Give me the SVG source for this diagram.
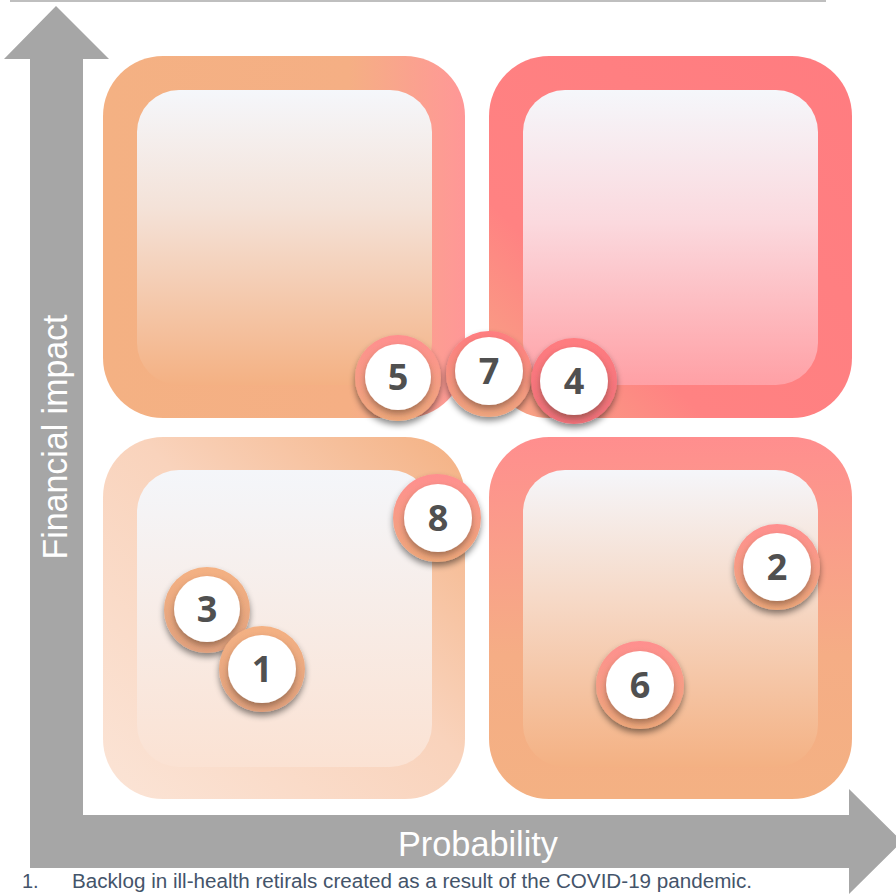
<svg xmlns="http://www.w3.org/2000/svg" width="896" height="894" viewBox="0 0 896 894">
  <defs>
    <style>
      .axis { fill: #A6A6A6; }
      .axislabel { fill: #FFFFFF; font-family: "Liberation Sans", "Open Sans", sans-serif; font-size: 35px; }
      .num { fill: #505050; font-family: "Open Sans", "DejaVu Sans", sans-serif; font-weight: bold; font-size: 36px; text-anchor: middle; }
      .inner { fill: #FFFFFF; filter: url(#innerShadow); }
      .ring { filter: url(#dropShadow); }
      .foot { fill: #44546A; font-family: "Liberation Sans", "Open Sans", sans-serif; font-size: 20px; }
    </style>
    <filter id="dropShadow" x="-30%" y="-30%" width="160%" height="170%">
      <feDropShadow dx="0" dy="4" stdDeviation="3" flood-color="#000000" flood-opacity="0.45"/>
    </filter>
    <filter id="innerShadow" x="-30%" y="-30%" width="160%" height="170%">
      <feDropShadow dx="0" dy="4" stdDeviation="3" flood-color="#5a3a2a" flood-opacity="0.5"/>
    </filter>
    <linearGradient id="tlOuter" x1="0" y1="0" x2="1" y2="0">
      <stop offset="0" stop-color="#F4B183"/>
      <stop offset="0.68" stop-color="#F5AF84"/>
      <stop offset="1" stop-color="#FF9797"/>
    </linearGradient>
    <linearGradient id="tlInner" x1="0" y1="0" x2="0" y2="1">
      <stop offset="0" stop-color="#F5F7FB"/>
      <stop offset="0.4" stop-color="#F4E2D8"/>
      <stop offset="1" stop-color="#F4B183"/>
    </linearGradient>
    <linearGradient id="trOuter" x1="0" y1="1" x2="1" y2="0">
      <stop offset="0" stop-color="#F6A886"/>
      <stop offset="0.3" stop-color="#FF8282"/>
      <stop offset="1" stop-color="#FF7C80"/>
    </linearGradient>
    <linearGradient id="trInner" x1="0" y1="0" x2="0" y2="1">
      <stop offset="0" stop-color="#F5F7FB"/>
      <stop offset="0.45" stop-color="#FBD9DE"/>
      <stop offset="1" stop-color="#FFA0A5"/>
    </linearGradient>
    <linearGradient id="blOuter" x1="0" y1="1" x2="1" y2="0">
      <stop offset="0" stop-color="#FBE4D6"/>
      <stop offset="0.55" stop-color="#F9D3BC"/>
      <stop offset="1" stop-color="#F4B183"/>
    </linearGradient>
    <linearGradient id="blInner" x1="0" y1="0" x2="0" y2="1">
      <stop offset="0" stop-color="#F4F6FA"/>
      <stop offset="1" stop-color="#FBE2D3"/>
    </linearGradient>
    <linearGradient id="brOuter" x1="0" y1="0" x2="0" y2="1">
      <stop offset="0" stop-color="#FF8E8E"/>
      <stop offset="0.6" stop-color="#F5AD85"/>
      <stop offset="1" stop-color="#F4B183"/>
    </linearGradient>
    <linearGradient id="brInner" x1="0" y1="0" x2="0" y2="1">
      <stop offset="0" stop-color="#F5F6FA"/>
      <stop offset="0.45" stop-color="#F6D8C5"/>
      <stop offset="1" stop-color="#F4B183"/>
    </linearGradient>
    <linearGradient id="ringPink" x1="0" y1="0" x2="0" y2="1">
      <stop offset="0" stop-color="#FF8F8F"/>
      <stop offset="1" stop-color="#EFA97C"/>
    </linearGradient>
    <linearGradient id="ringRedOrange" x1="0" y1="0" x2="0" y2="1">
      <stop offset="0" stop-color="#FF7C80"/>
      <stop offset="1" stop-color="#EFA680"/>
    </linearGradient>
    <linearGradient id="ringRed" x1="0" y1="0" x2="0" y2="1">
      <stop offset="0" stop-color="#FF7C80"/>
      <stop offset="1" stop-color="#F0707A"/>
    </linearGradient>
    <linearGradient id="ringOrange" x1="0" y1="0" x2="0" y2="1">
      <stop offset="0" stop-color="#F4B183"/>
      <stop offset="1" stop-color="#E2A27F"/>
    </linearGradient>
  </defs>

  <rect x="0" y="0" width="896" height="894" fill="#FFFFFF"/>

  <line x1="10" y1="1" x2="826" y2="1" stroke="#BFBFBF" stroke-width="2"/>

  <g id="connectors">
    <path class="axis" d="M56,6 L109,59 L83,59 L83,815 L849,815 L849,789 L902,841.5 L849,894 L849,868 L30,868 L30,59 L4,59 Z"/>
  </g>
  <text class="axislabel" x="478" y="856" text-anchor="middle" textLength="160" lengthAdjust="spacingAndGlyphs">Probability</text>
  <text class="axislabel" transform="translate(67,437) rotate(-90)" x="0" y="0" text-anchor="middle" textLength="245" lengthAdjust="spacingAndGlyphs">Financial impact</text>

  <g id="quadrant-top-left">
    <rect x="103" y="56" width="362" height="362" rx="60" fill="url(#tlOuter)"/>
    <rect x="137" y="90" width="295" height="295" rx="42" fill="url(#tlInner)"/>
  </g>
  <g id="quadrant-top-right">
    <rect x="489" y="56" width="363" height="362" rx="60" fill="url(#trOuter)"/>
    <rect x="523" y="90" width="295" height="295" rx="42" fill="url(#trInner)"/>
  </g>
  <g id="quadrant-bottom-left">
    <rect x="103" y="437" width="362" height="362" rx="60" fill="url(#blOuter)"/>
    <rect x="137" y="470" width="295" height="297" rx="42" fill="url(#blInner)"/>
  </g>
  <g id="quadrant-bottom-right">
    <rect x="489" y="437" width="363" height="362" rx="60" fill="url(#brOuter)"/>
    <rect x="523" y="470" width="295" height="297" rx="42" fill="url(#brInner)"/>
  </g>

  <g id="risk-5">
    <circle class="ring" cx="398" cy="378" r="43" fill="url(#ringPink)"/>
    <circle class="inner" cx="398" cy="377" r="33"/>
    <text class="num" x="398" y="390">5</text>
  </g>
  <g id="risk-7">
    <circle class="ring" cx="489" cy="374" r="43" fill="url(#ringRedOrange)"/>
    <circle class="inner" cx="489" cy="371" r="34"/>
    <text class="num" x="489" y="384">7</text>
  </g>
  <g id="risk-4">
    <circle class="ring" cx="574" cy="381" r="43" fill="url(#ringRed)"/>
    <circle class="inner" cx="574" cy="381" r="34"/>
    <text class="num" x="574" y="394">4</text>
  </g>
  <g id="risk-8">
    <circle class="ring" cx="437" cy="518" r="44" fill="url(#ringPink)"/>
    <circle class="inner" cx="438" cy="518" r="34"/>
    <text class="num" x="438" y="531">8</text>
  </g>
  <g id="risk-2">
    <circle class="ring" cx="777" cy="567" r="43" fill="url(#ringPink)"/>
    <circle class="inner" cx="777" cy="567" r="34"/>
    <text class="num" x="777" y="580">2</text>
  </g>
  <g id="risk-6">
    <circle class="ring" cx="640" cy="685" r="44" fill="url(#ringPink)"/>
    <circle class="inner" cx="640" cy="685" r="34"/>
    <text class="num" x="640" y="698">6</text>
  </g>
  <g id="risk-3">
    <circle class="ring" cx="207" cy="610" r="43" fill="url(#ringOrange)"/>
    <circle class="inner" cx="207" cy="609" r="33"/>
    <text class="num" x="207" y="622">3</text>
  </g>
  <g id="risk-1">
    <circle class="ring" cx="262" cy="669" r="43" fill="url(#ringOrange)"/>
    <circle class="inner" cx="262" cy="669" r="34"/>
    <text class="num" x="262" y="682">1</text>
  </g>

  <text class="foot" x="22" y="888">1.</text>
  <text class="foot" x="72" y="888" textLength="680" lengthAdjust="spacingAndGlyphs">Backlog in ill-health retirals created as a result of the COVID-19 pandemic.</text>
</svg>
